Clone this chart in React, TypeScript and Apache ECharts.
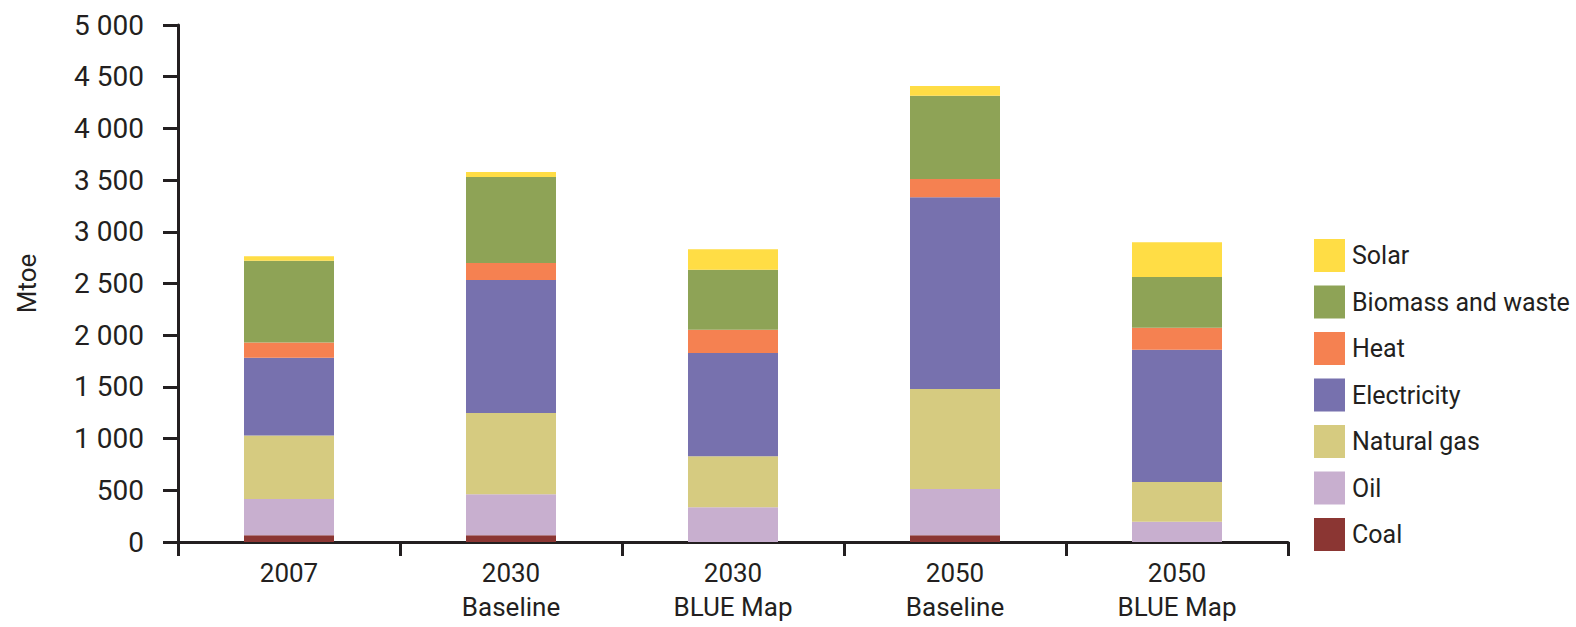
import React, { useEffect, useRef } from "react";
import * as echarts from "echarts";

const categories = ["2007", "2030\nBaseline", "2030\nBLUE Map", "2050\nBaseline", "2050\nBLUE Map"];
const coal = [65, 65, 0, 65, 0];
const oil = [350, 396, 335, 448, 196];
const naturalGas = [616, 787, 494, 967, 384];
const electricity = [750, 1286, 999, 1853, 1280];
const heat = [149, 164, 225, 178, 213];
const biomass = [789, 832, 581, 805, 490];
const solar = [45, 48, 197, 94, 335];

const yMin = 0;
const yMax = 5000;
const yInterval = 500;
const legendOrder = ["Solar", "Biomass and waste", "Heat", "Electricity", "Natural gas", "Oil", "Coal"];

const TEXT = "#231f20";
const FONT = "Roboto";

function fmt(v: number): string {
  if (v >= 1000) {
    return Math.floor(v / 1000) + " " + String(v % 1000).padStart(3, "0");
  }
  return String(v);
}

export default function App() {
  const ref = useRef<HTMLDivElement>(null);
  useEffect(() => {
    if (!ref.current) return;
    const chart = echarts.init(ref.current, undefined, { renderer: "svg" });
    const mk = (name: string, data: number[], color: string) => ({
      name,
      type: "bar",
      stack: "total",
      data,
      barWidth: 90,
      itemStyle: { color },
    });
    chart.setOption({
      animation: false,
      textStyle: { fontFamily: FONT, color: TEXT },
      grid: { left: 178, right: 288, top: 25, bottom: 85, containLabel: false, outerBoundsMode: "none" },
      legend: {
        orient: "vertical",
        left: 1309,
        top: 234,
        itemWidth: 31,
        itemHeight: 33,
        itemGap: 13.5,
        icon: "rect",
        data: legendOrder,
        textStyle: { fontSize: 25, color: TEXT, fontFamily: FONT, padding: [0, 0, 0, 2] },
      },
      xAxis: {
        type: "category",
        data: categories,
        axisLine: { lineStyle: { color: TEXT, width: 3 } },
        axisTick: { show: true, length: 14, lineStyle: { color: TEXT, width: 3 } },
        axisLabel: {
          color: TEXT,
          fontSize: 26,
          lineHeight: 34,
          margin: 14,
          fontFamily: FONT,
        },
      },
      yAxis: {
        type: "value",
        min: yMin,
        max: yMax,
        interval: yInterval,
        name: "Mtoe",
        nameLocation: "middle",
        nameGap: 138,
        nameTextStyle: { fontSize: 26, color: TEXT, fontFamily: FONT },
        axisLine: { show: true, lineStyle: { color: TEXT, width: 3 } },
        axisTick: { show: true, length: 15, lineStyle: { color: TEXT, width: 3 } },
        splitLine: { show: false },
        axisLabel: {
          color: TEXT,
          fontSize: 28,
          margin: 34,
          fontFamily: FONT,
          formatter: (v: number) => fmt(v),
        },
      },
      series: [
        mk("Coal", coal, "#8b3633"),
        mk("Oil", oil, "#c8afcf"),
        mk("Natural gas", naturalGas, "#d6cb80"),
        mk("Electricity", electricity, "#7771ae"),
        mk("Heat", heat, "#f58151"),
        mk("Biomass and waste", biomass, "#8ea356"),
        mk("Solar", solar, "#ffdd45"),
      ],
    });
    return () => chart.dispose();
  }, []);
  return (
    <div
      ref={ref}
      style={{ position: "fixed", left: 0, top: 0, width: 1576, height: 627, background: "#ffffff" }}
    />
  );
}
